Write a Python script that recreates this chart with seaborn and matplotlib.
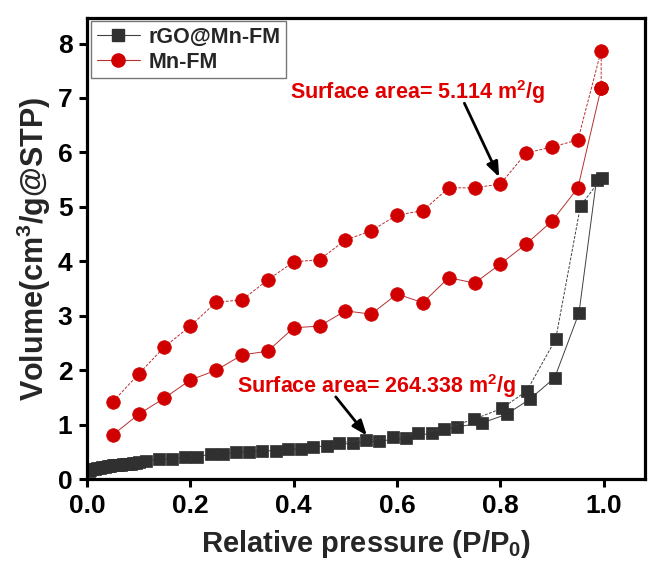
import matplotlib
matplotlib.use("Agg")
import matplotlib.pyplot as plt
import seaborn as sns
import pandas as pd
from matplotlib.lines import Line2D

# ---------------- data ----------------
# rGO@Mn-FM adsorption branch
rgo_ads_x = [0.003, 0.006, 0.01, 0.015, 0.02, 0.025, 0.03, 0.035, 0.04, 0.045, 0.05,
             0.055, 0.06, 0.065, 0.07, 0.075, 0.08, 0.085, 0.09, 0.095, 0.10,
             0.114, 0.139, 0.164, 0.19, 0.213, 0.24, 0.263, 0.288, 0.313, 0.338,
             0.366, 0.389, 0.414, 0.437, 0.464, 0.514, 0.565, 0.617, 0.667, 0.716,
             0.764, 0.812, 0.857, 0.905, 0.952, 0.986]
rgo_ads_y = [0.14, 0.16, 0.18, 0.19, 0.20, 0.21, 0.22, 0.23, 0.235, 0.24, 0.25,
             0.255, 0.26, 0.265, 0.27, 0.275, 0.28, 0.285, 0.29, 0.30, 0.31,
             0.34, 0.36, 0.37, 0.40, 0.41, 0.46, 0.46, 0.50, 0.50, 0.52,
             0.52, 0.55, 0.55, 0.59, 0.61, 0.66, 0.70, 0.75, 0.85, 0.96,
             1.03, 1.19, 1.47, 1.86, 3.05, 5.50]
# rGO@Mn-FM desorption branch
rgo_des_x = [0.996, 0.955, 0.907, 0.851, 0.803, 0.749, 0.69, 0.64, 0.592, 0.54, 0.487]
rgo_des_y = [5.53, 5.02, 2.57, 1.62, 1.30, 1.10, 0.92, 0.85, 0.77, 0.72, 0.67]

# Mn-FM adsorption branch
mn_ads_x = [0.05, 0.10, 0.15, 0.20, 0.25, 0.30, 0.35, 0.40, 0.45, 0.50,
            0.55, 0.60, 0.65, 0.70, 0.75, 0.80, 0.85, 0.90, 0.95, 0.995]
mn_ads_y = [0.81, 1.19, 1.49, 1.82, 2.00, 2.28, 2.35, 2.78, 2.81, 3.09,
            3.03, 3.40, 3.24, 3.70, 3.60, 3.95, 4.32, 4.74, 5.35, 7.19]
# Mn-FM desorption branch
mn_des_x = [0.995, 0.995, 0.95, 0.90, 0.85, 0.80, 0.75, 0.70, 0.65, 0.60, 0.55,
            0.50, 0.45, 0.40, 0.35, 0.30, 0.25, 0.20, 0.15, 0.10, 0.05]
mn_des_y = [7.19, 7.87, 6.23, 6.10, 5.99, 5.42, 5.35, 5.35, 4.93, 4.85, 4.56,
            4.39, 4.03, 3.99, 3.66, 3.29, 3.25, 2.81, 2.43, 1.93, 1.42]

series_names = ["rGO@Mn-FM", "Mn-FM"]
x_ticks = [0.0, 0.2, 0.4, 0.6, 0.8, 1.0]
y_ticks = [0, 1, 2, 3, 4, 5, 6, 7, 8]
annot_texts = ["Surface area= 5.114 m$^2$/g", "Surface area= 264.338 m$^2$/g"]

# ---------------- style ----------------
sns.set_style("white")
plt.rcParams["font.family"] = ["Liberation Sans", "DejaVu Sans"]
plt.rcParams["font.weight"] = "bold"
plt.rcParams["mathtext.fontset"] = "custom"
plt.rcParams["mathtext.rm"] = "Liberation Sans:bold"
plt.rcParams["mathtext.it"] = "Liberation Sans:bold"
plt.rcParams["mathtext.bf"] = "Liberation Sans:bold"

fig = plt.figure(figsize=(6.49, 5.61), dpi=100)
ax = fig.add_axes([0.134, 0.146, 0.86, 0.822])

black_c = "#303030"
red_c = "#d00000"
black_line = "#404040"
red_line = "#b83030"

def draw(xs, ys, marker, mcolor, lcolor, ms, ls="-"):
    df = pd.DataFrame({"x": xs, "y": ys})
    sns.lineplot(data=df, x="x", y="y", sort=False, estimator=None, ax=ax,
                 color=lcolor, linewidth=0.7, linestyle=ls,
                 marker=marker, markersize=ms, markerfacecolor=mcolor,
                 markeredgecolor=mcolor, markeredgewidth=0.5)

draw(rgo_ads_x, rgo_ads_y, "s", black_c, black_line, 8.5)
draw(rgo_des_x, rgo_des_y, "s", black_c, black_line, 8.5, ls=(0, (3, 1.5)))
draw(mn_ads_x, mn_ads_y, "o", red_c, red_line, 9.8)
draw(mn_des_x, mn_des_y, "o", red_c, red_line, 9.8, ls=(0, (3, 1.5)))

ax.set_xlim(0, 1.08)
ax.set_ylim(0, 8.47)
ax.set_xticks(x_ticks)
ax.set_xticklabels([f"{v:.1f}" for v in x_ticks])
ax.set_yticks(y_ticks)
ax.set_yticklabels([str(v) for v in y_ticks])

for sp in ax.spines.values():
    sp.set_visible(True)
    sp.set_linewidth(2.3)
    sp.set_color("black")
ax.tick_params(axis="both", which="major", direction="out", length=6, width=2.2,
               labelsize=19, pad=4.5, bottom=True, left=True, top=False, right=False,
               colors="black")
for lab in ax.get_xticklabels() + ax.get_yticklabels():
    lab.set_fontweight("bold")

ax.set_xlabel("Relative pressure (P/P$_0$)", fontsize=21, fontweight="bold", labelpad=7.5)
ax.set_ylabel("Volume(cm$^3$/g@STP)", fontsize=22, fontweight="bold", labelpad=3)

# annotations
ax.annotate(annot_texts[0], xy=(0.80, 5.47), xytext=(0.393, 7.11),
            fontsize=15.5, fontweight="bold", color="#e00000", va="center", ha="left")
ax.annotate("", xy=(0.80, 5.50), xytext=(0.728, 6.95),
            arrowprops=dict(arrowstyle="-|>,head_length=0.9,head_width=0.35",
                            color="black", lw=2))
ax.annotate(annot_texts[1], xy=(0.54, 0.77), xytext=(0.29, 1.71),
            fontsize=15.5, fontweight="bold", color="#e00000", va="center", ha="left")
ax.annotate("", xy=(0.545, 0.76), xytext=(0.478, 1.55),
            arrowprops=dict(arrowstyle="-|>,head_length=0.9,head_width=0.35",
                            color="black", lw=2))

handles = [
    Line2D([0], [0], color=black_line, lw=0.8, marker="s", markersize=8,
           markerfacecolor=black_c, markeredgecolor=black_c),
    Line2D([0], [0], color=red_line, lw=0.8, marker="o", markersize=9.5,
           markerfacecolor=red_c, markeredgecolor=red_c),
]
leg = ax.legend(handles, series_names, loc="upper left", bbox_to_anchor=(0.0, 1.002),
                frameon=True, fancybox=False, edgecolor="#777777", framealpha=1,
                prop={"weight": "bold", "size": 15.5}, handlelength=2.0,
                handletextpad=0.4, borderpad=0.25, labelspacing=0.2, borderaxespad=0.2)
leg.get_frame().set_linewidth(1.0)

fig.savefig("out.png", dpi=100)
